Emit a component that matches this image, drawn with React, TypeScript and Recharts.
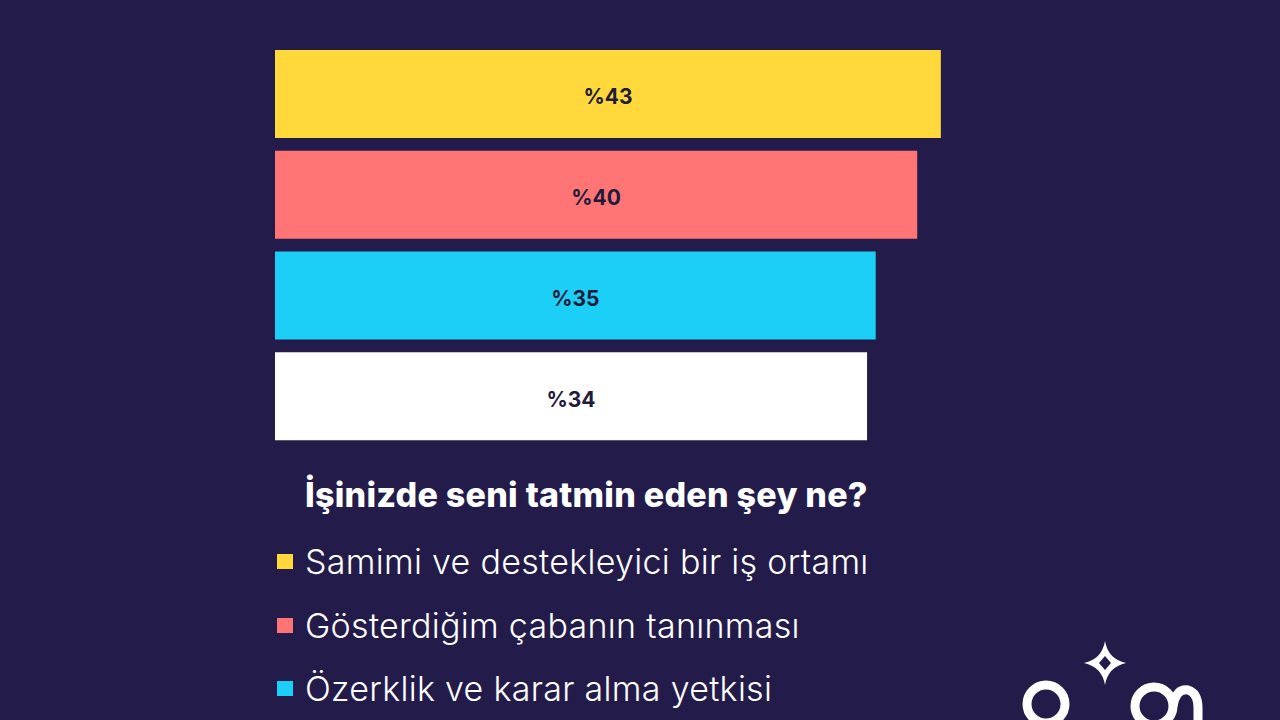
import React from "react";
import { BarChart, Bar, XAxis, YAxis, Cell, LabelList, Legend } from "recharts";

const categories = [
  "Samimi ve destekleyici bir iş ortamı",
  "Gösterdiğim çabanın tanınması",
  "Özerklik ve karar alma yetkisi",
  "Diğer",
];
const values = [43, 40, 35, 34];
const colors = ["#FFD83B", "#FF7575", "#1BCFF6", "#FFFFFF"];
const title = "İşinizde seni tatmin eden şey ne?";
const visibleLegendCount = 3;

const data = categories.map((name, i) => ({ name, value: values[i] }));

const BG = "#231C4B";
const FONT = "Inter, 'Noto Sans', sans-serif";

const renderLegend = () => (
  <div style={{ fontFamily: FONT, color: "#FFFFFF", textAlign: "left" }}>
    <div
      style={{
        fontWeight: 800,
        fontSize: 34,
        letterSpacing: 0.25,
        marginLeft: 28,
        lineHeight: "44px",
        whiteSpace: "nowrap",
      }}
    >
      {title}
    </div>
    {categories.slice(0, visibleLegendCount).map((c, i) => (
      <div
        key={c}
        style={{
          display: "flex",
          alignItems: "center",
          height: 63.5,
          marginTop: i === 0 ? 13 : 0,
          whiteSpace: "nowrap",
        }}
      >
        <span
          style={{
            display: "inline-block",
            width: 16,
            height: 15,
            background: colors[i],
            marginRight: 12,
          }}
        />
        <span style={{ fontSize: 34, fontWeight: 300, letterSpacing: 0.3 }}>{c}</span>
      </div>
    ))}
  </div>
);

const Logo = () => (
  <svg
    width={1280}
    height={720}
    style={{ position: "absolute", left: 0, top: 0, pointerEvents: "none" }}
  >
    <circle cx={1046} cy={704} r={19} fill="none" stroke="#FFFFFF" strokeWidth={9} />
    <path
      d="M1105 641 Q1108 659 1126 663 Q1108 667 1105 685 Q1102 667 1084 663 Q1102 659 1105 641 Z"
      fill="#FFFFFF"
    />
    <path d="M1105 656 L1111 663 L1105 670 L1099 663 Z" fill={BG} />
    <circle cx={1154} cy={706} r={19} fill="none" stroke="#FFFFFF" strokeWidth={9} />
    <path
      d="M1173 706 Q1176 688 1188 690 Q1198 693 1198 708 L1198 725"
      fill="none"
      stroke="#FFFFFF"
      strokeWidth={9}
    />
  </svg>
);

export default function App() {
  return (
    <div
      style={{
        position: "absolute",
        left: 0,
        top: 0,
        width: 1280,
        height: 720,
        background: BG,
        overflow: "hidden",
      }}
    >
      <BarChart
        width={1280}
        height={720}
        data={data}
        layout="vertical"
        margin={{ top: 44, right: 287, bottom: 273, left: 275 }}
        barSize={88}
      >
        <XAxis type="number" scale="sqrt" domain={[0, 50]} hide />
        <YAxis type="category" dataKey="name" hide width={0} />
        <Legend
          content={renderLegend}
          layout="vertical"
          verticalAlign="middle"
          align="center"
          wrapperStyle={{ position: "absolute", left: 277, top: 473, width: 800 }}
        />
        <Bar dataKey="value" isAnimationActive={false}>
          {data.map((d, i) => (
            <Cell key={d.name} fill={colors[i]} />
          ))}
          <LabelList
            dataKey="value"
            position="center"
            formatter={(v: number) => `%${v}`}
            dy={3}
            style={{
              fill: "#221B3A",
              fontFamily: FONT,
              fontWeight: 700,
              fontSize: 21,
            }}
          />
        </Bar>
      </BarChart>
      <Logo />
    </div>
  );
}
